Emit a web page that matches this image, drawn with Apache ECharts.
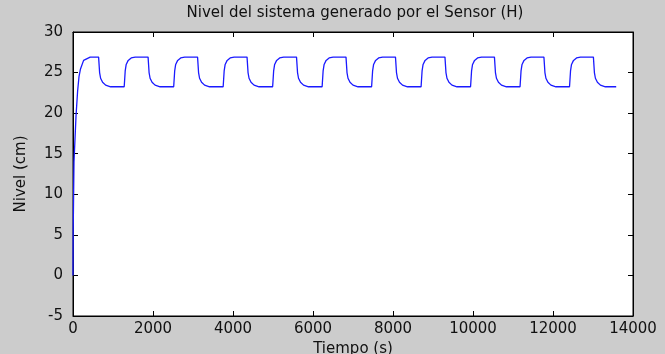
<!DOCTYPE html>
<html>
<head>
<meta charset="utf-8">
<script src="https://cdn.jsdelivr.net/npm/echarts@6/dist/echarts.min.js"></script>
<style>
html,body{margin:0;padding:0;background:#cccccc;}
#chart{width:665px;height:354px;}
</style>
</head>
<body>
<div id="chart"></div>
<script>
// Chart text
const titleText = 'Nivel del sistema generado por el Sensor (H)';
const xName = 'Tiempo (s)';
const yName = 'Nivel (cm)';

// Axis ranges / ticks
const xMin = 0, xMax = 14000, xStep = 2000;
const yMin = -5, yMax = 30, yStep = 5;

// Time samples (s)
const tiempo = [
  0, 5, 25, 75, 115, 150, 185, 265, 430,
  640, 665, 690, 740, 815, 940,
  1280, 1305, 1330, 1380, 1455, 1555,
  1877, 1902, 1927, 1977, 2052, 2177,
  2517, 2542, 2567, 2617, 2692, 2792,
  3114, 3139, 3164, 3214, 3289, 3414,
  3754, 3779, 3804, 3854, 3929, 4029,
  4351, 4376, 4401, 4451, 4526, 4651,
  4991, 5016, 5041, 5091, 5166, 5266,
  5588, 5613, 5638, 5688, 5763, 5888,
  6228, 6253, 6278, 6328, 6403, 6503,
  6825, 6850, 6875, 6925, 7000, 7125,
  7465, 7490, 7515, 7565, 7640, 7740,
  8062, 8087, 8112, 8162, 8237, 8362,
  8702, 8727, 8752, 8802, 8877, 8977,
  9299, 9324, 9349, 9399, 9474, 9599,
  9939, 9964, 9989, 10039, 10114, 10214,
  10536, 10561, 10586, 10636, 10711, 10836,
  11176, 11201, 11226, 11276, 11351, 11451,
  11773, 11798, 11823, 11873, 11948, 12073,
  12413, 12438, 12463, 12513, 12588, 12688,
  13010, 13035, 13060, 13110, 13185, 13310,
  13580
];

// Level values (cm)
const nivel = [
  0, 5.5, 14, 19.6, 22.7, 24.5, 25.4, 26.5, 26.9,
  26.9, 25.0, 24.3, 23.8, 23.45, 23.25,
  23.25, 25.2, 26.0, 26.5, 26.8, 26.9,
  26.9, 25.0, 24.3, 23.8, 23.45, 23.25,
  23.25, 25.2, 26.0, 26.5, 26.8, 26.9,
  26.9, 25.0, 24.3, 23.8, 23.45, 23.25,
  23.25, 25.2, 26.0, 26.5, 26.8, 26.9,
  26.9, 25.0, 24.3, 23.8, 23.45, 23.25,
  23.25, 25.2, 26.0, 26.5, 26.8, 26.9,
  26.9, 25.0, 24.3, 23.8, 23.45, 23.25,
  23.25, 25.2, 26.0, 26.5, 26.8, 26.9,
  26.9, 25.0, 24.3, 23.8, 23.45, 23.25,
  23.25, 25.2, 26.0, 26.5, 26.8, 26.9,
  26.9, 25.0, 24.3, 23.8, 23.45, 23.25,
  23.25, 25.2, 26.0, 26.5, 26.8, 26.9,
  26.9, 25.0, 24.3, 23.8, 23.45, 23.25,
  23.25, 25.2, 26.0, 26.5, 26.8, 26.9,
  26.9, 25.0, 24.3, 23.8, 23.45, 23.25,
  23.25, 25.2, 26.0, 26.5, 26.8, 26.9,
  26.9, 25.0, 24.3, 23.8, 23.45, 23.25,
  23.25, 25.2, 26.0, 26.5, 26.8, 26.9,
  26.9, 25.0, 24.3, 23.8, 23.45, 23.25,
  23.25
];

const seriesData = tiempo.map((t, i) => [t, nivel[i]]);

const FONT = 'DejaVu Sans';
const txt = { color: '#111', fontFamily: FONT, fontSize: 15 };
const line = { show: true, onZero: false, lineStyle: { color: '#000', width: 1 } };
const tick = { show: true, inside: true, length: 5, lineStyle: { color: '#000', width: 1 } };

const chart = echarts.init(document.getElementById('chart'), null, { renderer: 'canvas' });
chart.setOption({
  backgroundColor: '#cccccc',
  animation: false,
  title: {
    text: titleText,
    left: 350, top: 1, textAlign: 'center',
    textStyle: { color: '#111', fontFamily: FONT, fontSize: 15, fontWeight: 'normal' }
  },
  grid: {
    left: 73, right: 32, top: 32, bottom: 38,
    containLabel: false, outerBoundsMode: 'none',
    show: true, backgroundColor: '#ffffff', borderColor: '#000', borderWidth: 1
  },
  xAxis: [
    {
      type: 'value', min: xMin, max: xMax, interval: xStep, position: 'bottom',
      name: xName, nameLocation: 'middle', nameGap: 18, nameTextStyle: txt,
      axisLine: line, axisTick: tick, splitLine: { show: false },
      axisLabel: Object.assign({ margin: 6, showMaxLabel: true, showMinLabel: true,
        formatter: v => String(v) }, txt)
    },
    {
      type: 'value', min: xMin, max: xMax, interval: xStep, position: 'top',
      axisLine: line, axisTick: tick, splitLine: { show: false }, axisLabel: { show: false }
    }
  ],
  yAxis: [
    {
      type: 'value', min: yMin, max: yMax, interval: yStep, position: 'left',
      name: yName, nameLocation: 'middle', nameGap: 44, nameTextStyle: txt,
      axisLine: line, axisTick: tick, splitLine: { show: false },
      axisLabel: Object.assign({ margin: 10, formatter: v => String(v) }, txt)
    },
    {
      type: 'value', min: yMin, max: yMax, interval: yStep, position: 'right',
      axisLine: line, axisTick: tick, splitLine: { show: false }, axisLabel: { show: false }
    }
  ],
  series: [{
    type: 'line', data: seriesData, xAxisIndex: 0, yAxisIndex: 0,
    showSymbol: false, symbol: 'none', smooth: false,
    lineStyle: { color: '#1a1aff', width: 1.3 }
  }]
});
</script>
</body>
</html>
